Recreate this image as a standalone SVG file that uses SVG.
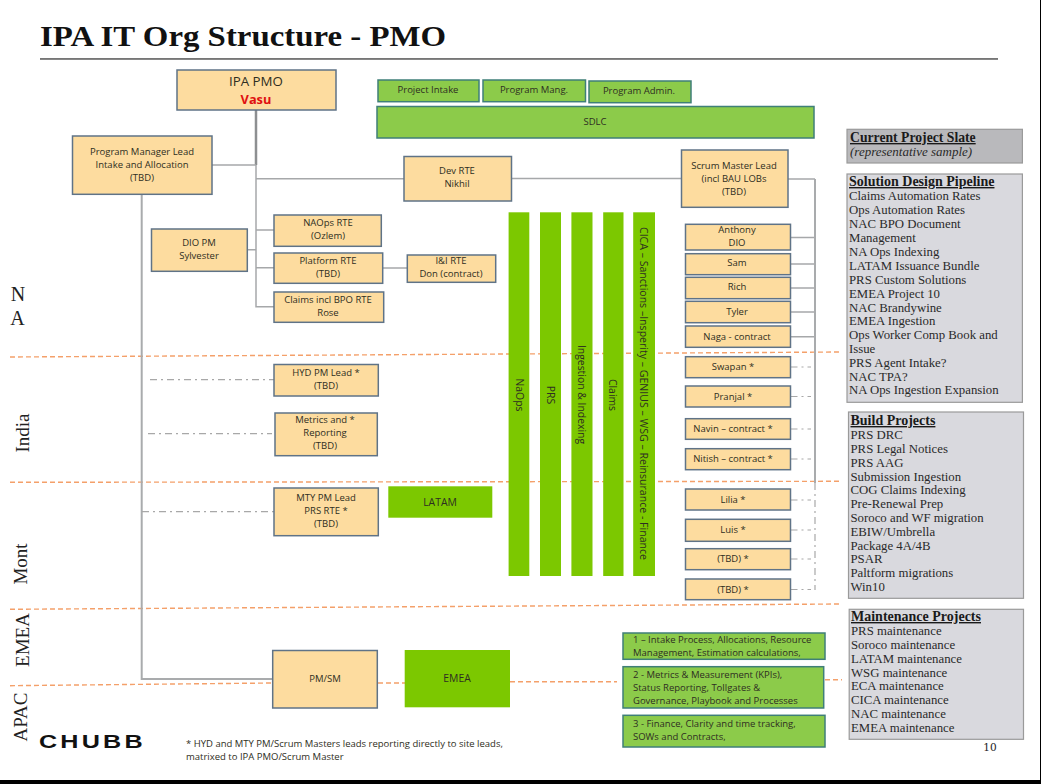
<svg xmlns="http://www.w3.org/2000/svg" width="1041" height="784" viewBox="0 0 1041 784">
<style>
text{font-family:"Open Sans","Noto Sans","Liberation Sans",sans-serif;font-size:9.5px;fill:#2e2e22;text-anchor:middle}
.n rect{fill:#fddc9f;stroke:#5f7387;stroke-width:1.5}
.g rect{fill:#8ccb4a;stroke:#3f7f78;stroke-width:1.5}
.b rect{fill:#7cc800}
.b text{font-size:10.4px}
.s rect{fill:#d9d9de;stroke:#9a9a9a;stroke-width:1.2}
.s text{font-family:"Liberation Serif",serif;font-size:12.8px;text-anchor:start;fill:#2a2a2a}
.s .h{font-weight:bold;font-size:14px;text-decoration:underline;fill:#1a1a1a}
.r{font-family:"Liberation Serif",serif;font-size:19px;fill:#222}
.l{fill:none;stroke:#a6a8aa;stroke-width:1.5}
.t{fill:none;stroke:#8d8f91;stroke-width:2.5}
.d{fill:none;stroke:#a8a8a8;stroke-width:1.2;stroke-dasharray:7 4 2 4}
.o{fill:none;stroke:#f4a06a;stroke-width:1.4;stroke-dasharray:5 3}
.lg{text-anchor:start}
</style>
<rect width="1041" height="784" fill="#fff"/>
<text x="40" y="46" style="font-family:'Liberation Serif',serif;font-size:29px;font-weight:bold;text-anchor:start;fill:#111" textLength="406" lengthAdjust="spacingAndGlyphs">IPA IT Org Structure - PMO</text>
<rect x="40" y="58.2" width="958" height="1.5" fill="#555"/>
<g id="connectors">
<path class="o" d="M10 357L842 352M10 482.3L842 481.3M10 609.3L842 604M10 685.7L273 683M378 683L405 683M510 681.7L617 681.7M825 679.7L842 679.7"/>
<path class="t" d="M256 110V165"/>
<path class="l" d="M212 165H256M256 165V306.7H274M256 178.7H404M511.7 178.5H681.5M256 230H274M247 249.7H256M256 267.7H274M382.7 268H407M788 179H815M790.5 237.5H815M790.5 264H815M790.5 288H815M790.5 312H815M790.5 336.7H815"/>
<path class="t" d="M815 179V483M141.7 194V679H273" style="stroke:#a9abad;stroke-width:2"/>
<path class="d" d="M815 483V590M150 379.7H274M148 433.7H272M142 511.7H274M790.5 367H811M790.5 396.5H811M790.5 429H811M790.5 459H811M790.5 500H811M790.5 530H811M790.5 559H811M790.5 589.5H811"/>
</g>
<g id="ipa-pmo" class="n"><rect x="177" y="70" width="159" height="40"/><text x="256" y="86" style="font-size:13.3px">IPA PMO</text><text x="256" y="103.5" style="font-size:12.8px;font-weight:bold;fill:#e01010">Vasu</text></g>
<g id="project-intake" class="g"><rect x="378" y="80" width="101" height="21.7"/><text x="428" y="93">Project Intake</text></g>
<g id="program-mang" class="g"><rect x="483" y="80" width="102.5" height="21.7"/><text x="534" y="93">Program Mang.</text></g>
<g id="program-admin" class="g"><rect x="589" y="81" width="102" height="21.7"/><text x="639" y="94">Program Admin.</text></g>
<g id="sdlc" class="g"><rect x="377" y="106.5" width="437" height="31.5"/><text x="595" y="125">SDLC</text></g>
<g id="pm-lead" class="n"><rect x="72.5" y="136" width="139.5" height="58.3"/><text x="142" y="155">Program Manager Lead</text><text x="142" y="168">Intake and Allocation</text><text x="142" y="181">(TBD)</text></g>
<g id="dev-rte" class="n"><rect x="404" y="156.5" width="107.5" height="44.5"/><text x="457" y="174">Dev RTE</text><text x="457" y="187">Nikhil</text></g>
<g id="scrum-lead" class="n"><rect x="681.5" y="150" width="106.5" height="57.3"/><text x="734" y="169">Scrum Master Lead</text><text x="734" y="182">(incl BAU LOBs</text><text x="734" y="195">(TBD)</text></g>
<g id="dio-pm" class="n"><rect x="151.5" y="229" width="95.8" height="42.3"/><text x="199" y="246">DIO PM</text><text x="199" y="259">Sylvester</text></g>
<g id="naops-rte" class="n"><rect x="274" y="215" width="107.3" height="31.3"/><text x="328" y="226">NAOps RTE</text><text x="328" y="239">(Ozlem)</text></g>
<g id="platform-rte" class="n"><rect x="274" y="253" width="108.7" height="30.3"/><text x="328" y="264">Platform RTE</text><text x="328" y="277">(TBD)</text></g>
<g id="claims-rte" class="n"><rect x="274" y="292" width="109.7" height="30.3"/><text x="328" y="303">Claims incl BPO RTE</text><text x="328" y="316">Rose</text></g>
<g id="ii-rte" class="n"><rect x="407.3" y="255" width="88.4" height="27.3"/><text x="451" y="264">I&amp;I RTE</text><text x="451" y="277">Don (contract)</text></g>
<g id="hyd-lead" class="n"><rect x="274" y="364.5" width="104.3" height="31.5"/><text x="326" y="376">HYD PM Lead *</text><text x="326" y="389">(TBD)</text></g>
<g id="metrics" class="n"><rect x="275" y="413" width="102.3" height="42.7"/><text x="325" y="423">Metrics and *</text><text x="325" y="436">Reporting</text><text x="325" y="449">(TBD)</text></g>
<g id="mty-lead" class="n"><rect x="274" y="488" width="104.3" height="47.7"/><text x="326" y="501">MTY PM Lead</text><text x="326" y="514">PRS RTE *</text><text x="326" y="527">(TBD)</text></g>
<g id="pm-sm" class="n"><rect x="272.7" y="650.5" width="104.6" height="57.5"/><text x="325" y="682">PM/SM</text></g>
<g id="latam" class="b"><rect x="388.3" y="486.3" width="104" height="31.4"/><text x="440" y="506">LATAM</text></g>
<g id="emea" class="b"><rect x="404.7" y="650" width="105.3" height="57.3"/><text x="457" y="682">EMEA</text></g>
<g id="naops-bar" class="b"><rect x="508.6" y="212.3" width="20.7" height="363.7"/><text transform="translate(515.5,395) rotate(90)">NaOps</text></g>
<g id="prs-bar" class="b"><rect x="540" y="212.3" width="21" height="363.7"/><text transform="translate(547,395) rotate(90)">PRS</text></g>
<g id="ingestion-bar" class="b"><rect x="571.4" y="212.3" width="21.1" height="363.7"/><text transform="translate(577.5,394.5) rotate(90)">Ingestion &amp; Indexing</text></g>
<g id="claims-bar" class="b"><rect x="603.2" y="212.3" width="20.3" height="363.7"/><text transform="translate(608.5,395) rotate(90)">Claims</text></g>
<g id="cica-bar" class="b"><rect x="633.2" y="212.3" width="21.8" height="363.7"/><text transform="translate(640,393.5) rotate(90)" textLength="333" lengthAdjust="spacingAndGlyphs">CICA – Sanctions –Insperity – GENIUS – WSG – Reinsurance - Finance</text></g>
<g id="anthony" class="n"><rect x="685.5" y="224.3" width="105" height="25.7"/><text x="737" y="233">Anthony</text><text x="737" y="246">DIO</text></g>
<g id="sam" class="n"><rect x="685.5" y="253.7" width="105" height="21"/><text x="737" y="266">Sam</text></g>
<g id="rich" class="n"><rect x="685.5" y="277.3" width="105" height="21.4"/><text x="737" y="290">Rich</text></g>
<g id="tyler" class="n"><rect x="685.5" y="301.3" width="105" height="21.4"/><text x="737" y="315">Tyler</text></g>
<g id="naga" class="n"><rect x="685.5" y="326" width="105" height="21.3"/><text x="737" y="340">Naga - contract</text></g>
<g id="swapan" class="n"><rect x="685.5" y="356.7" width="105" height="21"/><text x="733" y="370">Swapan *</text></g>
<g id="pranjal" class="n"><rect x="685.5" y="386" width="105" height="21"/><text x="733" y="399.5">Pranjal *</text></g>
<g id="navin" class="n"><rect x="685.5" y="418.7" width="105" height="20.6"/><text x="733" y="432">Navin – contract *</text></g>
<g id="nitish" class="n"><rect x="685.5" y="448.7" width="105" height="21"/><text x="733" y="462">Nitish – contract *</text></g>
<g id="lilia" class="n"><rect x="685.5" y="489" width="105" height="21"/><text x="733" y="502.5">Lilia *</text></g>
<g id="luis" class="n"><rect x="685.5" y="519.3" width="105" height="22"/><text x="733" y="533">Luis *</text></g>
<g id="tbd1" class="n"><rect x="685.5" y="548.7" width="105" height="21"/><text x="733" y="562">(TBD) *</text></g>
<g id="tbd2" class="n"><rect x="685.5" y="579" width="105" height="20.7"/><text x="733" y="592.5">(TBD) *</text></g>
<g id="legend-1" class="g"><rect x="623" y="633" width="202" height="26.3"/><text class="lg" x="633" y="642.5">1 – Intake Process, Allocations, Resource</text><text class="lg" x="633" y="655.5">Management, Estimation calculations,</text></g>
<g id="legend-2" class="g"><rect x="623" y="666.7" width="200.7" height="41.3"/><text class="lg" x="633" y="677.5">2 - Metrics &amp; Measurement (KPIs),</text><text class="lg" x="633" y="690.5">Status Reporting, Tollgates &amp;</text><text class="lg" x="633" y="703.5">Governance, Playbook and Processes</text></g>
<g id="legend-3" class="g"><rect x="623" y="715.3" width="202" height="31.7"/><text class="lg" x="633" y="727">3 - Finance, Clarity and time tracking,</text><text class="lg" x="633" y="740">SOWs and Contracts,</text></g>
<g id="slate" class="s"><rect x="847" y="129.3" width="175.4" height="33.7" style="fill:#b9b9bc"/><text class="h" x="850" y="142" style="font-size:13.7px">Current Project Slate</text><text x="850" y="156" style="font-style:italic;font-size:13px">(representative sample)</text></g>
<g id="pipeline" class="s"><rect x="847" y="174" width="175.4" height="228.3"/><text class="h" x="849" y="186">Solution Design Pipeline</text><text x="849" y="200">Claims Automation Rates</text><text x="849" y="214">Ops Automation Rates</text><text x="849" y="228">NAC BPO Document</text><text x="849" y="242">Management</text><text x="849" y="256">NA Ops Indexing</text><text x="849" y="270">LATAM Issuance Bundle</text><text x="849" y="284">PRS Custom Solutions</text><text x="849" y="298">EMEA Project 10</text><text x="849" y="312">NAC Brandywine</text><text x="849" y="325">EMEA Ingestion</text><text x="849" y="339">Ops Worker Comp Book and</text><text x="849" y="353">Issue</text><text x="849" y="367">PRS Agent Intake?</text><text x="849" y="381">NAC TPA?</text><text x="849" y="394">NA Ops Ingestion Expansion</text></g>
<g id="build" class="s"><rect x="848.5" y="412" width="175" height="186.3"/><text class="h" x="850.5" y="425">Build Projects</text><text x="850.5" y="439">PRS DRC</text><text x="850.5" y="453">PRS Legal Notices</text><text x="850.5" y="467">PRS AAG</text><text x="850.5" y="481">Submission Ingestion</text><text x="850.5" y="494">COG Claims Indexing</text><text x="850.5" y="508">Pre-Renewal Prep</text><text x="850.5" y="522">Soroco and WF migration</text><text x="850.5" y="536">EBIW/Umbrella</text><text x="850.5" y="550">Package 4A/4B</text><text x="850.5" y="563">PSAR</text><text x="850.5" y="577">Paltform migrations</text><text x="850.5" y="591">Win10</text></g>
<g id="maintenance" class="s"><rect x="849.2" y="609.3" width="174.3" height="130"/><text class="h" x="851" y="621">Maintenance Projects</text><text x="851" y="635">PRS maintenance</text><text x="851" y="649">Soroco maintenance</text><text x="851" y="663">LATAM maintenance</text><text x="851" y="677">WSG maintenance</text><text x="851" y="690">ECA maintenance</text><text x="851" y="704">CICA maintenance</text><text x="851" y="718">NAC maintenance</text><text x="851" y="732">EMEA maintenance</text></g>
<text class="r" x="18" y="301" style="font-size:20px">N</text><text class="r" x="17.5" y="325" style="font-size:20px">A</text>
<text class="r" transform="translate(29,433) rotate(-90)">India</text>
<text class="r" transform="translate(27,564) rotate(-90)">Mont</text>
<text class="r" transform="translate(29,640) rotate(-90)">EMEA</text>
<text class="r" transform="translate(27,717) rotate(-90)">APAC</text>
<text transform="translate(39,748) scale(1.4,1)" style="font-family:'Liberation Sans',sans-serif;font-size:18px;font-weight:bold;text-anchor:start;fill:#111" textLength="74">CHUBB</text>
<text x="186" y="747" style="text-anchor:start">* HYD and MTY PM/Scrum Masters leads reporting directly to site leads,</text>
<text x="186" y="760" style="text-anchor:start">matrixed to IPA PMO/Scrum Master</text>
<text x="990" y="751" style="font-family:'DejaVu Serif',serif;font-size:10.5px;fill:#222">10</text>
<rect x="0" y="780" width="1041" height="4" fill="#000"/>
<rect x="1040" y="0" width="1" height="784" fill="#000"/>
</svg>
